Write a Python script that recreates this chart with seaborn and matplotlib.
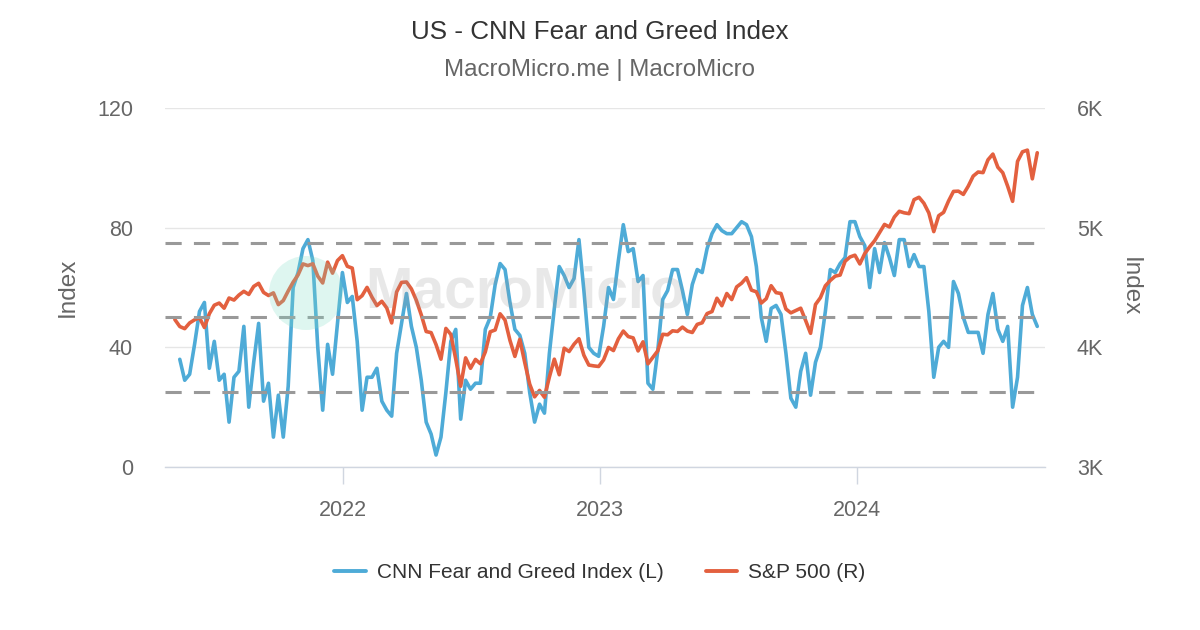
import numpy as np
import pandas as pd
import matplotlib
matplotlib.use("Agg")
import matplotlib.pyplot as plt
import matplotlib.dates as mdates
import matplotlib.ticker as mticker
import matplotlib.transforms as mtransforms
from matplotlib.lines import Line2D
from matplotlib.patches import Circle
import seaborn as sns

# ---------------- data (weekly, Fridays) ----------------
week_start = "2021-05-07"
week_end = "2024-09-13"

sp500 = [
    4232, 4174, 4156, 4204, 4230, 4247, 4166, 4281, 4352, 4370,
    4327, 4412, 4395, 4437, 4468, 4442, 4509, 4535, 4459, 4433,
    4455, 4357, 4391, 4471, 4545, 4605, 4697, 4683, 4698, 4595,
    4538, 4712, 4620, 4725, 4766, 4677, 4662, 4398, 4432, 4501,
    4419, 4349, 4385, 4329, 4204, 4463, 4543, 4546, 4488, 4393,
    4272, 4132, 4123, 4023, 3901, 4158, 4108, 3901, 3675, 3912,
    3825, 3899, 3863, 3962, 4130, 4145, 4280, 4228, 4058, 3924,
    4067, 3873, 3693, 3586, 3640, 3583, 3752, 3901, 3771, 3993,
    3965, 4026, 4072, 3934, 3852, 3845, 3840, 3895, 3999, 3973,
    4071, 4136, 4090, 4079, 3970, 4046, 3862, 3917, 3971, 4109,
    4105, 4138, 4133, 4169, 4136, 4124, 4192, 4205, 4282, 4299,
    4410, 4348, 4450, 4399, 4505, 4536, 4582, 4478, 4464, 4370,
    4406, 4515, 4457, 4450, 4320, 4288, 4308, 4327, 4224, 4117,
    4358, 4415, 4514, 4559, 4595, 4604, 4719, 4755, 4770, 4697,
    4784, 4840, 4891, 4959, 5027, 5006, 5089, 5137, 5124, 5117,
    5234, 5254, 5204, 5123, 4967, 5100, 5128, 5223, 5303, 5305,
    5278, 5347, 5431, 5465, 5460, 5567, 5615, 5505, 5459, 5346,
    5220, 5554, 5634, 5648, 5408, 5626,
]

# Fear & Greed starts one week after the S&P series
fear_greed = [
    36, 29, 31, 41, 52, 55, 33, 42, 29, 31,
    15, 30, 32, 47, 20, 35, 48, 22, 28, 10,
    24, 10, 27, 60, 65, 73, 76, 69, 40, 19,
    41, 31, 48, 65, 55, 57, 42, 19, 30, 30,
    33, 22, 19, 17, 38, 48, 58, 47, 40, 29,
    15, 11, 4, 10, 25, 42, 46, 16, 29, 26,
    28, 28, 46, 50, 61, 68, 66, 55, 46, 44,
    38, 25, 15, 21, 18, 38, 53, 67, 64, 60,
    63, 76, 59, 40, 38, 37, 47, 60, 56, 69,
    81, 72, 73, 62, 64, 28, 26, 39, 56, 59,
    66, 66, 59, 51, 61, 66, 65, 73, 78, 81,
    79, 78, 78, 80, 82, 81, 77, 67, 50, 42,
    53, 54, 51, 38, 23, 20, 32, 38, 24, 35,
    40, 52, 66, 65, 68, 70, 82, 82, 77, 74,
    60, 73, 65, 75, 70, 64, 76, 76, 67, 71,
    67, 67, 52, 30, 40, 42, 40, 62, 58, 50,
    45, 45, 45, 38, 51, 58, 46, 42, 47, 20,
    30, 54, 60, 51, 47,
]

threshold_levels = [25, 50, 75]
left_ticks = [0, 40, 80, 120]
right_ticks = [3000, 4000, 5000, 6000]
year_ticks = ["2022-01-01", "2023-01-01", "2024-01-01"]

title = "US - CNN Fear and Greed Index"
subtitle = "MacroMicro.me | MacroMicro"
label_fg = "CNN Fear and Greed Index (L)"
label_sp = "S&P 500 (R)"

# ---------------- style ----------------
sns.set_theme(style="white")
plt.rcParams['font.family'] = ['Liberation Sans', 'DejaVu Sans']

BLUE = "#4eabd7"
RED = "#e3603f"
GREY_TXT = "#666666"

dates = pd.date_range(week_start, week_end, freq="W-FRI")
sp_df = pd.DataFrame({"date": dates, "value": sp500})
fg_df = pd.DataFrame({"date": dates[1:], "value": fear_greed})

fig = plt.figure(figsize=(12, 6.3), dpi=100)
ax = fig.add_axes([165 / 1200, 1 - 467 / 630, 880 / 1200, 359 / 630])
ax2 = ax.twinx()

sns.lineplot(data=fg_df, x="date", y="value", ax=ax, color=BLUE,
             linewidth=2.6, legend=False)
sns.lineplot(data=sp_df, x="date", y="value", ax=ax2, color=RED,
             linewidth=2.6, legend=False)

# threshold dashed lines (left-axis units), drawn on top
trans = mtransforms.blended_transform_factory(ax2.transAxes, ax.transData)
for lv in threshold_levels:
    ln = Line2D([0, 1], [lv, lv], transform=trans, color="#999999",
                linewidth=2.2, linestyle=(0, (5.3, 4)), zorder=5)
    ax2.add_line(ln)

# limits
ax.set_xlim(pd.Timestamp("2021-04-23"), pd.Timestamp("2024-09-24"))
ax.set_ylim(0, 120)
ax2.set_ylim(3000, 6000)

ax.set_yticks(left_ticks)
ax2.set_yticks(right_ticks)
ax2.yaxis.set_major_formatter(mticker.FuncFormatter(lambda v, p: f"{int(v/1000)}K"))
ax.set_xticks([pd.Timestamp(t) for t in year_ticks])
ax.xaxis.set_major_formatter(mdates.DateFormatter("%Y"))

ax.yaxis.grid(True, color="#e6e6e6", linewidth=1)
ax.xaxis.grid(False)
ax2.grid(False)

for a in (ax, ax2):
    for s in ("top", "left", "right"):
        a.spines[s].set_visible(False)
ax2.spines["bottom"].set_visible(False)
ax.spines["bottom"].set_color("#d0d6e0")
ax.spines["bottom"].set_linewidth(1.0)

ax.tick_params(axis="y", length=0, pad=23, labelsize=15.5, labelcolor=GREY_TXT)
ax2.tick_params(axis="y", length=0, pad=23, labelsize=15.5, labelcolor=GREY_TXT)
ax.tick_params(axis="x", length=12, width=1, color="#d0d6e0", pad=12,
               labelsize=15.5, labelcolor=GREY_TXT, direction="out", bottom=True)

ax.set_xlabel("")
ax.set_ylabel("")
ax2.set_xlabel("")
ax2.set_ylabel("")

fig.text(68 / 1200, 1 - 287 / 630, "Index", rotation=90, ha="center",
         va="center", fontsize=17.5, color=GREY_TXT)
fig.text(1130 / 1200, 1 - 287 / 630, "Index", rotation=270, ha="center",
         va="center", fontsize=17.5, color=GREY_TXT)

# titles
fig.text(0.5, 1 - 32 / 630, title, ha="center", va="center",
         fontsize=18.7, color="#333333")
fig.text(0.5, 1 - 70 / 630, subtitle, ha="center", va="center",
         fontsize=17.3, color=GREY_TXT)

# watermark
fig.add_artist(Circle((3.06, (630 - 293) / 100), 0.37,
                      transform=fig.dpi_scale_trans, color="#7fdcc5",
                      alpha=0.25, zorder=10, linewidth=0))
fig.text(525 / 1200, 1 - 292 / 630, "MacroMicro", ha="center", va="center",
         fontsize=41, fontweight="bold", color="#9a9a9a", alpha=0.22, zorder=11)

# legend
handles = [Line2D([0], [0], color=BLUE, linewidth=2.8),
           Line2D([0], [0], color=RED, linewidth=2.8)]
fig.legend(handles, [label_fg, label_sp], loc="center",
           bbox_to_anchor=(0.5, 1 - 573 / 630), ncol=2, frameon=False,
           fontsize=15, handlelength=1.5, handletextpad=0.55,
           columnspacing=2.0, labelcolor="#333333")

fig.savefig("out.png", dpi=100)
